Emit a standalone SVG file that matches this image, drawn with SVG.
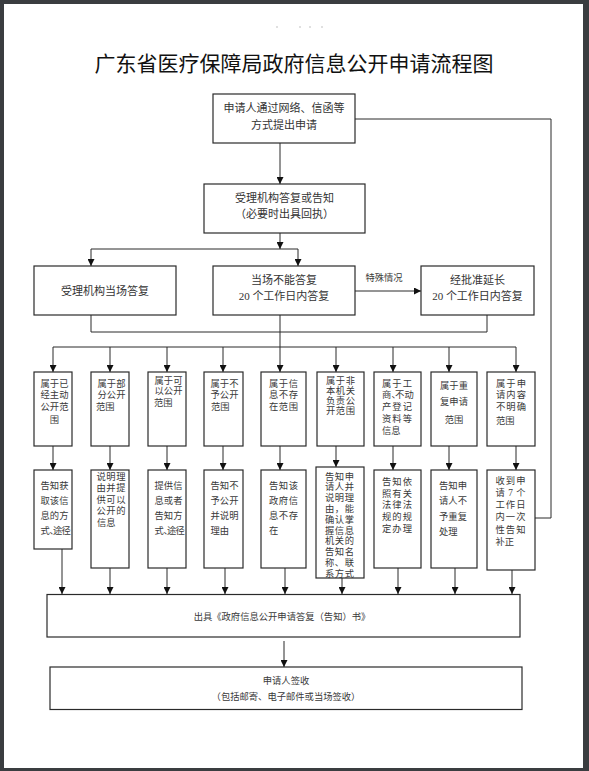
<svg xmlns="http://www.w3.org/2000/svg" width="589" height="771" viewBox="0 0 589 771">
<style>
.box{fill:#fff;stroke:#2a2a2a;stroke-width:1.2}
.ln{fill:none;stroke:#2a2a2a;stroke-width:1}
.t{font-family:"Liberation Serif","Noto Sans CJK SC",serif;fill:#333;font-size:11px}
.tc{text-anchor:middle}
.s{font-family:"Liberation Serif","Noto Sans CJK SC",serif;fill:#3a3a3a;font-size:9.3px}
.title{font-family:"Noto Sans CJK SC","Noto Sans",sans-serif;font-size:21px;fill:#111;text-anchor:middle}
</style>
<defs>
<marker id="ah" markerWidth="7" markerHeight="7" refX="7" refY="3.5" orient="auto" markerUnits="userSpaceOnUse">
<path d="M0,0 L7,3.5 L0,7 z" fill="#111"/>
</marker>
</defs>
<rect x="0" y="0" width="589" height="771" fill="#3a3d40"/>
<rect x="4" y="4" width="579" height="764" fill="#fff"/>
<g fill="#aaa"><circle cx="277" cy="27" r="0.7"/><circle cx="300" cy="27" r="0.7"/><circle cx="310" cy="27" r="0.7"/><circle cx="322" cy="27" r="0.7"/></g>
<text class="title" x="294" y="71">广东省医疗保障局政府信息公开申请流程图</text>

<g id="connectors" class="ln">
<path d="M280,143 V184" marker-end="url(#ah)"/>
<path d="M280,233 V249" marker-end="url(#ah)"/>
<path d="M91,249 H298"/>
<path d="M91,249 V266" marker-end="url(#ah)"/>
<path d="M298,249 V266" marker-end="url(#ah)"/>
<path d="M355,291 H421" marker-end="url(#ah)"/>
<path d="M91,315 V332 H487 V315"/>
<path d="M280,315 V347"/>
<path d="M53,347 H516"/>
<path d="M53,347 V372" marker-end="url(#ah)"/>
<path d="M110,347 V372" marker-end="url(#ah)"/>
<path d="M167,347 V372" marker-end="url(#ah)"/>
<path d="M223,347 V372" marker-end="url(#ah)"/>
<path d="M280,347 V372" marker-end="url(#ah)"/>
<path d="M336,347 V372" marker-end="url(#ah)"/>
<path d="M393,347 V372" marker-end="url(#ah)"/>
<path d="M449,347 V372" marker-end="url(#ah)"/>
<path d="M516,347 V372" marker-end="url(#ah)"/>
<path d="M53,446 V470" marker-end="url(#ah)"/>
<path d="M110,446 V470" marker-end="url(#ah)"/>
<path d="M167,446 V470" marker-end="url(#ah)"/>
<path d="M223,446 V470" marker-end="url(#ah)"/>
<path d="M280,446 V470" marker-end="url(#ah)"/>
<path d="M336,446 V467" marker-end="url(#ah)"/>
<path d="M393,446 V470" marker-end="url(#ah)"/>
<path d="M449,446 V470" marker-end="url(#ah)"/>
<path d="M516,446 V470" marker-end="url(#ah)"/>
<path d="M62,549 V594" marker-end="url(#ah)"/>
<path d="M110,568 V594" marker-end="url(#ah)"/>
<path d="M167,568 V594" marker-end="url(#ah)"/>
<path d="M225,568 V594" marker-end="url(#ah)"/>
<path d="M285,568 V594" marker-end="url(#ah)"/>
<path d="M342,578 V594" marker-end="url(#ah)"/>
<path d="M398,568 V594" marker-end="url(#ah)"/>
<path d="M455,568 V594" marker-end="url(#ah)"/>
<path d="M512,570 V594" marker-end="url(#ah)"/>
<path d="M284,641 V667" marker-end="url(#ah)"/>
<path d="M355,119 H551 V518 H535"/>
<text class="s tc" x="384" y="281" stroke="none">特殊情况</text>
</g>

<g id="n-apply">
<rect class="box" x="213" y="94" width="142" height="49"/>
<text class="t tc" x="284" y="111.5">申请人通过网络、信函等</text>
<text class="t tc" x="284" y="128.5">方式提出申请</text>
</g>
<g id="n-accept">
<rect class="box" x="204" y="184" width="161" height="49"/>
<text class="t tc" x="284.5" y="201.5">受理机构答复或告知</text>
<text class="t tc" x="284.5" y="218">（必要时出具回执）</text>
</g>
<g id="n-onsite">
<rect class="box" x="34" y="266" width="142" height="49"/>
<text class="t tc" x="105" y="295">受理机构当场答复</text>
</g>
<g id="n-20days">
<rect class="box" x="213" y="266" width="142" height="49"/>
<text class="t tc" x="284" y="283.5">当场不能答复</text>
<text class="t tc" x="284" y="300">20 个工作日内答复</text>
</g>
<g id="n-extend">
<rect class="box" x="421" y="266" width="113" height="49"/>
<text class="t tc" x="477.5" y="283.5">经批准延长</text>
<text class="t tc" x="477.5" y="300">20 个工作日内答复</text>
</g>

<g id="c1">
<rect class="box" x="34" y="372" width="38" height="74"/>
<text class="s" x="40.5" y="386.5" textLength="28">属于已</text>
<text class="s" x="40.5" y="398" textLength="28">经主动</text>
<text class="s" x="40.5" y="409.5" textLength="28">公开范</text>
<text class="s tc" x="54.5" y="422.5">围</text>
</g>
<g id="c2">
<rect class="box" x="91" y="372" width="38" height="74"/>
<text class="s" x="97.5" y="386.5" textLength="28">属于部</text>
<text class="s" x="97.5" y="398" textLength="28">分公开</text>
<text class="s" x="96" y="409.5">范围</text>
</g>
<g id="c3">
<rect class="box" x="148" y="372" width="38" height="74"/>
<text class="s" x="154.5" y="384" textLength="28">属于可</text>
<text class="s" x="154.5" y="394" textLength="28">以公开</text>
<text class="s" x="154" y="405.5">范围</text>
</g>
<g id="c4">
<rect class="box" x="204" y="372" width="39" height="74"/>
<text class="s" x="210.5" y="386.5" textLength="28">属于不</text>
<text class="s" x="210.5" y="398" textLength="28">予公开</text>
<text class="s" x="211" y="409.5">范围</text>
</g>
<g id="c5">
<rect class="box" x="261" y="372" width="45" height="74"/>
<text class="s" x="269" y="386.5" textLength="29">属于信</text>
<text class="s" x="269" y="398" textLength="29">息不存</text>
<text class="s" x="269" y="409.5" textLength="29">在范围</text>
</g>
<g id="c6">
<rect class="box" x="317" y="372" width="47" height="74"/>
<text class="s" x="326" y="384" textLength="29">属于非</text>
<text class="s" x="326" y="394" textLength="29">本机关</text>
<text class="s" x="326" y="403.8" textLength="29">负责公</text>
<text class="s" x="326" y="413.5" textLength="29">开范围</text>
</g>
<g id="c7">
<rect class="box" x="374" y="372" width="47" height="74"/>
<text class="s" x="382" y="386.5" textLength="30">属于工</text>
<text class="s" x="382 391.5 395 404.5" y="398">商、不动</text>
<text class="s" x="382" y="410" textLength="30">产登记</text>
<text class="s" x="382" y="421.8" textLength="30">资料等</text>
<text class="s" x="382" y="433.5">信息</text>
</g>
<g id="c8">
<rect class="box" x="431" y="372" width="46" height="74"/>
<text class="s" x="440" y="388.5" textLength="28">属于重</text>
<text class="s" x="440" y="405" textLength="28">复申请</text>
<text class="s tc" x="454" y="422.8">范围</text>
</g>
<g id="c9">
<rect class="box" x="487" y="372" width="48" height="74"/>
<text class="s" x="496" y="386.5" textLength="30">属于申</text>
<text class="s" x="496" y="398" textLength="30">请内容</text>
<text class="s" x="496" y="410" textLength="30">不明确</text>
<text class="s" x="496" y="423.5">范围</text>
</g>

<g id="r1">
<rect class="box" x="34" y="470" width="38" height="79"/>
<text class="s" x="40.5" y="488.5" textLength="28">告知获</text>
<text class="s" x="40.5" y="503.5" textLength="28">取该信</text>
<text class="s" x="40.5" y="518.5" textLength="28">息的方</text>
<text class="s" x="40.5 49.5 53 61.5" y="533.5">式、途径</text>
</g>
<g id="r2">
<rect class="box" x="91" y="470" width="38" height="98"/>
<text class="s" x="96.5" y="480" textLength="29">说明理</text>
<text class="s" x="96.5" y="491.4" textLength="29">由并提</text>
<text class="s" x="96.5" y="502.8" textLength="29">供可以</text>
<text class="s" x="96.5" y="514.2" textLength="29">公开的</text>
<text class="s" x="97" y="525.6">信息</text>
</g>
<g id="r3">
<rect class="box" x="148" y="470" width="38" height="98"/>
<text class="s" x="154.5" y="488.5" textLength="28">提供信</text>
<text class="s" x="154.5" y="503.5" textLength="28">息或者</text>
<text class="s" x="154.5" y="518.5" textLength="28">告知方</text>
<text class="s" x="154.5 163.5 167 175.5" y="533.5">式、途径</text>
</g>
<g id="r4">
<rect class="box" x="204" y="470" width="39" height="98"/>
<text class="s" x="210.5" y="488.5" textLength="28">告知不</text>
<text class="s" x="210.5" y="503.5" textLength="28">予公开</text>
<text class="s" x="210.5" y="518.5" textLength="28">并说明</text>
<text class="s" x="210.5" y="533.5">理由</text>
</g>
<g id="r5">
<rect class="box" x="261" y="470" width="45" height="98"/>
<text class="s" x="269" y="488.5" textLength="29">告知该</text>
<text class="s" x="269" y="503.5" textLength="29">政府信</text>
<text class="s" x="269" y="518.5" textLength="29">息不存</text>
<text class="s" x="269" y="533.5">在</text>
</g>
<g id="r6">
<rect class="box" x="316" y="467" width="48" height="111"/>
<text class="s" x="325" y="479.5" textLength="29">告知申</text>
<text class="s" x="325" y="490.3" textLength="29">请人并</text>
<text class="s" x="325" y="501.1" textLength="29">说明理</text>
<text class="s" x="325" y="511.9" textLength="29">由，能</text>
<text class="s" x="325" y="522.7" textLength="29">确认掌</text>
<text class="s" x="325" y="533.5" textLength="29">握信息</text>
<text class="s" x="325" y="544.3" textLength="29">机关的</text>
<text class="s" x="325" y="555.1" textLength="29">告知名</text>
<text class="s" x="325" y="565.9" textLength="29">称、联</text>
<text class="s" x="325" y="576.5" textLength="29">系方式</text>
</g>
<g id="r7">
<rect class="box" x="374" y="470" width="47" height="98"/>
<text class="s" x="382" y="485" textLength="30">告知依</text>
<text class="s" x="382" y="496.7" textLength="30">照有关</text>
<text class="s" x="382" y="508.4" textLength="30">法律法</text>
<text class="s" x="382" y="520.1" textLength="30">规的规</text>
<text class="s" x="382" y="531.8" textLength="30">定办理</text>
</g>
<g id="r8">
<rect class="box" x="431" y="470" width="46" height="98"/>
<text class="s" x="439" y="488.5" textLength="28">告知申</text>
<text class="s" x="439" y="504" textLength="28">请人不</text>
<text class="s" x="439" y="519.5" textLength="28">予重复</text>
<text class="s" x="439" y="535">处理</text>
</g>
<g id="r9">
<rect class="box" x="487" y="470" width="48" height="100"/>
<text class="s" x="495.5" y="483.5" textLength="30">收到申</text>
<text class="s" x="495.5" y="495.8" textLength="30">请 7 个</text>
<text class="s" x="495.5" y="508.1" textLength="30">工作日</text>
<text class="s" x="495.5" y="520.4" textLength="30">内一次</text>
<text class="s" x="495.5" y="532.7" textLength="30">性告知</text>
<text class="s" x="495.5" y="545">补正</text>
</g>

<g id="n-issue">
<rect class="box" x="47" y="594.5" width="473" height="42.5"/>
<text class="s tc" x="282" y="619.5">出具《政府信息公开申请答复（告知）书》</text>
</g>
<g id="n-sign">
<rect class="box" x="50" y="667" width="472" height="42.5"/>
<text class="s tc" x="286" y="683.5">申请人签收</text>
<text class="s tc" x="286" y="700">（包括邮寄、电子邮件或当场签收）</text>
</g>
</svg>
